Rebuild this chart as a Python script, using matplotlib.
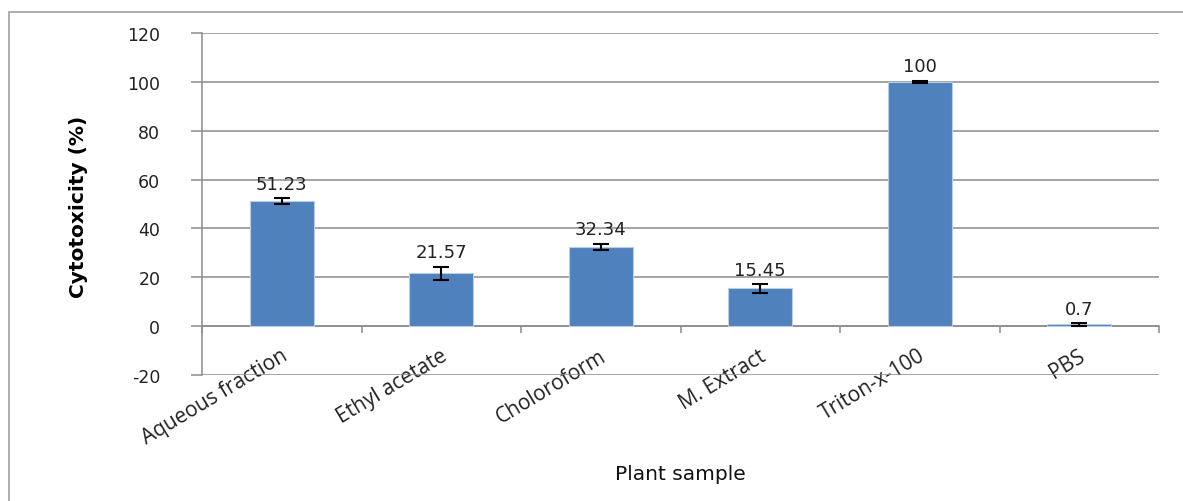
import matplotlib.pyplot as plt
from matplotlib.patches import Rectangle
from matplotlib.transforms import ScaledTranslation

# данные с графика
samples = ["Aqueous fraction", "Ethyl acetate", "Choloroform", "M. Extract", "Triton-x-100", "PBS"]
cytotoxicity = [51.23, 21.57, 32.34, 15.45, 100, 0.7]
errors = [1.2, 2.7, 1.3, 1.7, 0.4, 0.5]
value_labels = ["51.23", "21.57", "32.34", "15.45", "100", "0.7"]
y_ticks = [-20, 0, 20, 40, 60, 80, 100, 120]

fig = plt.figure(figsize=(11.83, 5.02), dpi=100)
ax = fig.add_axes([202 / 1183, 1 - 376 / 502, 957 / 1183, 342 / 502])

# внешняя рамка как в Excel (правая и нижняя стороны за краем картинки)
fig.patches.append(Rectangle((9 / 1183, -0.5), 2.0, 1 - 13 / 502 + 0.5,
                             transform=fig.transFigure, fill=False,
                             edgecolor="#a0a0a0", linewidth=1.2))

x = range(len(samples))
ax.bar(x, cytotoxicity, width=0.4, color="#4f81bd", edgecolor="#b9cde5",
       linewidth=0.8, zorder=3)
ax.errorbar(x, cytotoxicity, yerr=errors, fmt="none", ecolor="black",
            elinewidth=1.5, capsize=5.5, capthick=1.5, zorder=4)

for xi, v, e, lab in zip(x, cytotoxicity, errors, value_labels):
    ax.annotate(lab, (xi, v + e), xytext=(0, 4), textcoords="offset points",
                ha="center", va="bottom", fontsize=13, color="#222222",
                family="DejaVu Sans")

ax.set_xlim(-0.5, len(samples) - 0.5)
ax.set_ylim(-20, 120)
ax.set_yticks(y_ticks)
ax.set_yticklabels([str(t) for t in y_ticks], family="DejaVu Sans",
                   fontsize=12.5, color="#222222")
ax.yaxis.grid(True, color="#8c8c8c", linewidth=1.1, zorder=0)
ax.set_axisbelow(True)

for s in ["top", "right"]:
    ax.spines[s].set_visible(False)
ax.spines["left"].set_color("#8c8c8c")
ax.spines["left"].set_linewidth(1.1)
ax.spines["bottom"].set_position(("data", 0))
ax.spines["bottom"].set_color("#8c8c8c")
ax.spines["bottom"].set_linewidth(1.1)

# деления между категориями
ax.set_xticks([i + 0.5 for i in range(-1, len(samples))], minor=True)
ax.set_xticks(list(x))
ax.tick_params(axis="x", which="major", length=0, pad=20)
ax.tick_params(axis="x", which="minor", length=5, color="#8c8c8c", width=1.1,
               direction="out")
ax.set_xticklabels(samples, rotation=31, ha="right", va="center",
                   rotation_mode="anchor", fontsize=15, family="Open Sans",
                   color="#222222")
shift = ScaledTranslation(4 / 100, 0, fig.dpi_scale_trans)
for t in ax.get_xticklabels():
    t.set_transform(t.get_transform() + shift)
ax.tick_params(axis="y", length=8, color="#8c8c8c", width=1.1, pad=22)

fig.text(79 / 1183, 1 - 207 / 502, "Cytotoxicity (%)", rotation=90,
         ha="center", va="center", fontsize=14.5, fontweight="bold",
         family="DejaVu Sans")
fig.text(680 / 1183, 1 - 474 / 502, "Plant sample", ha="center", va="center",
         fontsize=14.5, family="DejaVu Sans", color="#111111")

plt.savefig("out.png", dpi=100)
